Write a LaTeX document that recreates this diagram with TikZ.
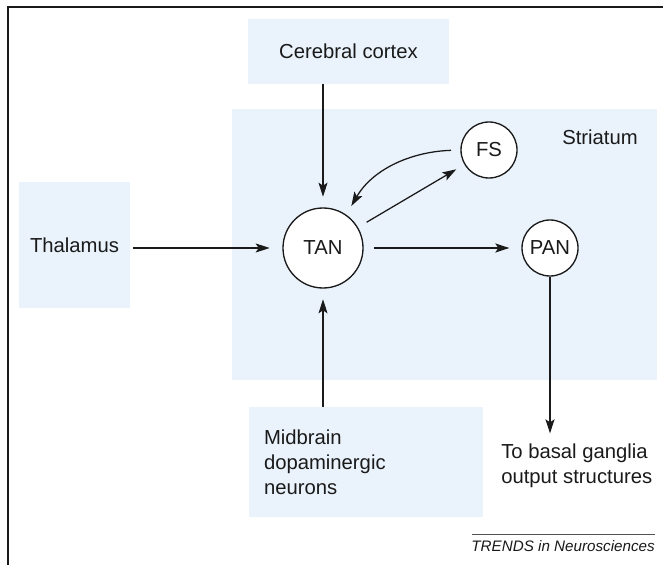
\documentclass[tikz,border=0pt]{standalone}
\usepackage{fontspec}
\setmainfont{Liberation Sans}
\usetikzlibrary{arrows.meta,calc}
\definecolor{boxblue}{HTML}{EAF3FC}
\definecolor{ink}{HTML}{1A1A1A}
\begin{document}
\begin{tikzpicture}[x=0.75pt,y=0.75pt,
  region/.style={rectangle,fill=boxblue,draw=none,inner sep=0pt},
  neuron/.style={circle,draw=ink,line width=1pt,fill=white,inner sep=0pt},
  lbl/.style={font=\fontsize{15.2}{18.75}\selectfont,text=ink},
  arr/.style={draw=ink,line width=0.95pt,-{Stealth[length=10.5pt,width=6.8pt,inset=2.2pt]}}]
\useasboundingbox (0,0) rectangle (663,564);
\fill[white] (0,0) rectangle (663,564);
\draw[line width=1.6pt,ink] (8,-6) -- (8,557) -- (670,557);
% regions
\node[region,minimum width=318.75pt,minimum height=203.25pt] (striatum) at (444.5,319.5) {};
\node[region,lbl,minimum width=150.75pt,minimum height=48.75pt] (cortex) at (348.5,512.5) {Cerebral cortex};
\node[region,lbl,minimum width=83.25pt,minimum height=94.5pt] (thal) at (74.5,319) {Thalamus};
\node[region,lbl,text width=153pt,align=left,inner xsep=11.25pt,minimum height=82.5pt] (mid) at (366,102) {Midbrain\\dopaminergic\\neurons};
\node[lbl,inner sep=0pt] (strlabel) at (600,427) {Striatum};
% neurons
\node[neuron,lbl,minimum size=60pt] (TAN) at (323,316) {TAN};
\node[neuron,lbl,minimum size=42pt] (FS) at (489,414) {FS};
\node[neuron,lbl,minimum size=42pt] (PAN) at (550,316) {PAN};
% output text
\node[lbl,align=left,inner sep=0pt,anchor=north west] (basal) at (501,120) {To basal ganglia\\output structures};
% credit
\draw[line width=0.6pt,ink!75] (472,30) -- (655,30);
\node[font=\fontsize{11.4}{13}\selectfont\itshape,text=ink,inner sep=0pt,anchor=base east] (credit) at (655,12.5) {TRENDS in Neurosciences};
% connectors
\draw[arr,shorten >=8pt] (cortex.south -| TAN.north) -- (TAN.north);
\draw[arr,shorten <=2pt,shorten >=9.5pt] (thal.east |- TAN.west) -- (TAN.west);
\draw[arr,shorten >=8pt] (mid.north -| TAN.south) -- (TAN.south);
\draw[arr,shorten <=8pt,shorten >=9pt] (TAN.east) -- (PAN.west);
\draw[arr,shorten <=7.5pt,shorten >=7pt] (TAN) -- (FS);
\draw[arr,shorten <=7pt,shorten >=7.5pt] (FS.west) to[out=182,in=60] (TAN.55);
\draw[arr,shorten >=8pt] (PAN.south) -- (PAN.south |- basal.north);
\end{tikzpicture}
\end{document}
